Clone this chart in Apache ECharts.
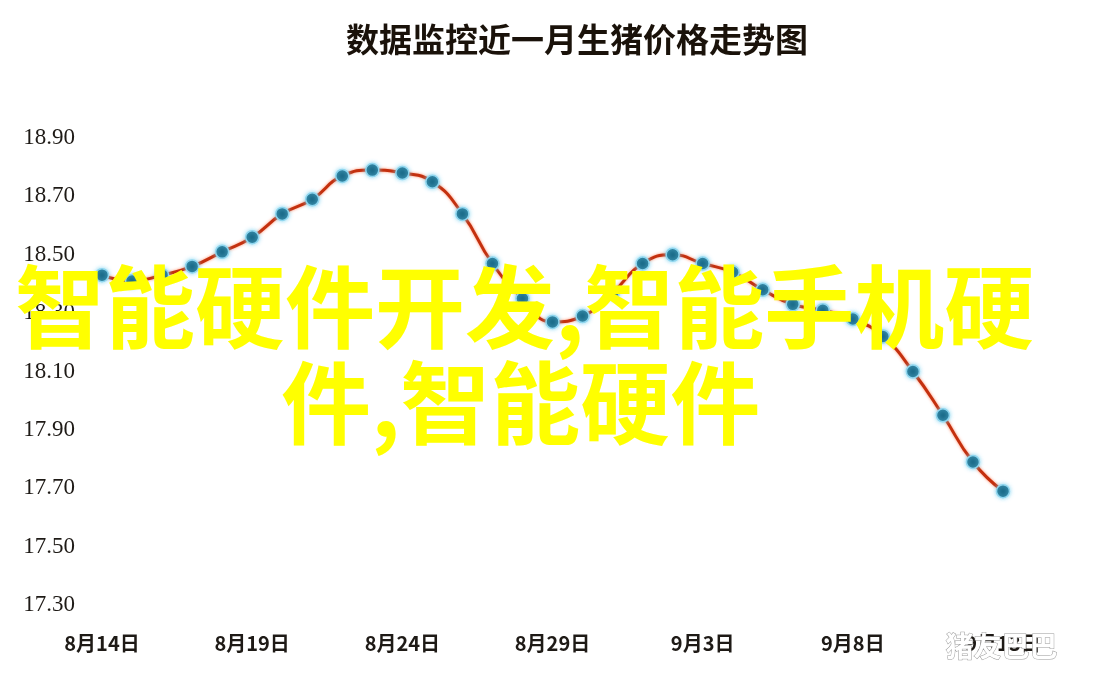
<!DOCTYPE html>
<html>
<head>
<meta charset="utf-8">
<script src="https://cdn.jsdelivr.net/npm/echarts@6/dist/echarts.min.js"></script>
<style>html,body{margin:0;padding:0;background:#fff}#c{width:1100px;height:687px}</style>
</head>
<body>
<div id="c"></div>
<script>
const titleText = '数据监控近一月生猪价格走势图';
const categories = ['8月14日','8月15日','8月16日','8月17日','8月18日','8月19日','8月20日','8月21日','8月22日','8月23日','8月24日','8月25日','8月26日','8月27日','8月28日','8月29日','8月30日','8月31日','9月1日','9月2日','9月3日','9月4日','9月5日','9月6日','9月7日','9月8日','9月9日','9月10日','9月11日','9月12日','9月13日'];
const prices = [18.43,18.41,18.43,18.46,18.51,18.56,18.64,18.69,18.77,18.79,18.78,18.75,18.64,18.47,18.35,18.27,18.29,18.37,18.47,18.50,18.47,18.44,18.38,18.33,18.31,18.28,18.22,18.10,17.95,17.79,17.69];
const yMin = 17.3, yMax = 18.9, yStep = 0.2;
const overlayLine1 = '智能硬件开发,智能手机硬';
const overlayLine2 = '件,智能硬件';
const watermark = '猪友巴巴';

const chart = echarts.init(document.getElementById('c'), null, {renderer:'canvas'});
chart.setOption({
  backgroundColor: '#ffffff',
  animation: false,
  title: {
    text: titleText,
    left: 572, top: 18, textAlign: 'center',
    textStyle: {fontFamily: 'Noto Sans CJK SC', fontWeight: 'bold', fontSize: 33, color: '#1a120a'}
  },
  grid: {left: 102, right: 97, top: 138, bottom: 82},
  xAxis: {
    type: 'category', data: categories, boundaryGap: false,
    axisLine: {show: false}, axisTick: {show: false}, splitLine: {show: false},
    axisLabel: {interval: 4, margin: 28, fontFamily: 'Noto Sans CJK SC', fontWeight: 'bold', fontSize: 20, color: '#1e1a16'}
  },
  yAxis: {
    type: 'value', min: yMin, max: yMax, interval: yStep,
    axisLine: {show: false}, axisTick: {show: false}, splitLine: {show: false},
    axisLabel: {margin: 27, fontFamily: 'Liberation Serif', fontSize: 23, color: '#1e1a16',
      formatter: v => v.toFixed(2)}
  },
  series: [{
    type: 'line', data: prices, smooth: true,
    symbol: 'circle', symbolSize: 13,
    lineStyle: {color: '#c4300e', width: 3, shadowColor: 'rgba(255,90,40,0.7)', shadowBlur: 3},
    itemStyle: {color: '#1b6c8a', borderColor: '#8fd6ef', borderWidth: 1.5, shadowColor: 'rgba(120,210,240,0.8)', shadowBlur: 4}
  }],
  graphic: [
    {type: 'text', z: 100, left: 15, top: 262,
      style: {text: overlayLine1, font: 'bold 90px "Noto Sans CJK SC"', fill: '#ffff00'}},
    {type: 'text', z: 100, left: 281, top: 358,
      style: {text: overlayLine2, font: 'bold 90px "Noto Sans CJK SC"', fill: '#ffff00'}},
    {type: 'text', z: 100, left: 945, top: 632,
      style: {text: watermark, font: 'bold 28px "Noto Sans CJK SC"', fill: '#ffffff', stroke: '#9a9a9a', lineWidth: 1,
        shadowColor: 'rgba(0,0,0,0.5)', shadowBlur: 2, shadowOffsetX: 1, shadowOffsetY: 1}}
  ]
});
</script>
</body>
</html>
